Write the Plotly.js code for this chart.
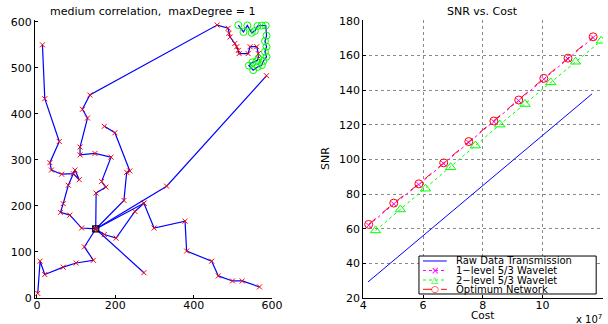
<!DOCTYPE html>
<html>
<head>
<meta charset="utf-8">
<script src="https://cdn.plot.ly/plotly-3.0.1.min.js"></script>
<style>html,body{margin:0;padding:0;background:#fff;}#chart{width:608px;height:324px;}</style>
</head>
<body>
<div id="chart"></div>
<script>
// ---------- Left panel: network (data coordinates) ----------
const rootX = [150];
const rootY = [150];

const branchSW_x = [150, 121, 144, 100, 67, 20, 8, 2];
const branchSW_y = [150, 111, 82, 76, 67, 51, 80, 10];

const branchS_x = [150, 273];
const branchS_y = [150, 55];

const branchE_x = [150, 172, 202, 250, 273, 299, 378, 382, 446, 463, 499, 524, 568];
const branchE_y = [150, 138, 130, 188, 206, 152, 167, 102, 80, 48, 37, 37, 24];

const branchE2_x = [150, 273];
const branchE2_y = [150, 206];

const branchNE_x = [150, 331, 586];
const branchNE_y = [150, 243, 483];

const branchN_x = [150, 222, 229, 237, 199, 172];
const branchN_y = [150, 212, 273, 276, 359, 373];

const branchNW_x = [150, 151, 176, 165, 189, 148, 110, 110, 129, 116, 135, 460, 488, 490, 493, 505, 510, 514, 516, 539, 544, 561, 565, 565];
const branchNW_y = [150, 228, 241, 253, 306, 314, 311, 328, 391, 410, 441, 593, 586, 575, 567, 553, 546, 538, 531, 531, 546, 546, 531, 520];

const branchW_x = [150, 114, 84, 60, 67, 80, 97, 108, 93, 63, 37, 33, 57, 20, 14];
const branchW_y = [150, 152, 180, 186, 205, 245, 278, 257, 270, 269, 278, 294, 340, 433, 550];

const clusterX = [514, 527, 537, 548, 556, 563, 574, 584, 586, 582, 586, 582, 586, 578, 574, 563, 552, 541, 550, 560, 565];
const clusterY = [593, 578, 592, 576, 580, 591, 592, 592, 570, 558, 546, 535, 524, 515, 506, 502, 495, 505, 512, 514, 520];

// ---------- Right panel: SNR vs Cost ----------
const legendLabels = ['Raw Data Transmission', '1\u2212level 5/3 Wavelet', '2\u2212level 5/3 Wavelet', 'Optimum Network'];

const costRaw = [4.16, 11.65];           // x 10^7
const snrRaw  = [29.3, 137.8];

const costW1 = [4.18, 5.02, 5.86, 6.69, 7.53, 8.37, 9.20, 10.04, 10.85, 11.69];
const snrW1  = [62.0, 74.3, 85.5, 97.6, 109.8, 121.8, 133.9, 146.3, 158.0, 170.3];

const costW2 = [4.41, 5.24, 6.08, 6.92, 7.75, 8.57, 9.41, 10.27, 11.10, 11.96];
const snrW2  = [59.0, 71.1, 83.1, 95.5, 108.0, 120.1, 132.0, 144.5, 156.4, 168.5];

const costOpt = [4.18, 5.02, 5.86, 6.69, 7.53, 8.37, 9.20, 10.04, 10.85, 11.69];
const snrOpt  = [62.5, 74.8, 85.9, 98.0, 110.3, 122.2, 134.3, 146.8, 158.5, 170.8];

const BLUE = '#0000ff', RED = '#ff0000', GREEN = '#00ff00', MAGENTA = '#ff00ff';
const FONT = 'DejaVu Sans, Arial, sans-serif';

const branches = [
  [branchSW_x, branchSW_y], [branchS_x, branchS_y], [branchE_x, branchE_y],
  [branchE2_x, branchE2_y], [branchNE_x, branchNE_y], [branchN_x, branchN_y],
  [branchNW_x, branchNW_y], [branchW_x, branchW_y]
];

const traces = [];
branches.forEach(b => {
  traces.push({
    x: b[0], y: b[1], xaxis: 'x', yaxis: 'y', type: 'scatter', mode: 'lines+markers',
    line: {color: BLUE, width: 1.2},
    marker: {symbol: 'x-thin', size: 5, color: RED, line: {color: RED, width: 1}},
    showlegend: false, hoverinfo: 'skip'
  });
});
traces.push({
  x: clusterX, y: clusterY, xaxis: 'x', yaxis: 'y', type: 'scatter', mode: 'lines+markers',
  line: {color: BLUE, width: 1.2},
  marker: {symbol: 'circle-open', size: 7, color: GREEN, line: {color: GREEN, width: 1}},
  showlegend: false, hoverinfo: 'skip'
});
traces.push({
  x: rootX, y: rootY, xaxis: 'x', yaxis: 'y', type: 'scatter', mode: 'markers',
  marker: {symbol: 'square-open', size: 6, color: '#000', line: {color: '#000', width: 1.2}},
  showlegend: false, hoverinfo: 'skip'
});

// right panel series
traces.push({x: costRaw, y: snrRaw, xaxis: 'x2', yaxis: 'y2', type: 'scatter', mode: 'lines',
  line: {color: BLUE, width: 1}, name: legendLabels[0], showlegend: false});
traces.push({x: costW1, y: snrW1, xaxis: 'x2', yaxis: 'y2', type: 'scatter', mode: 'lines+markers',
  line: {color: MAGENTA, width: 1, dash: 'dot'},
  marker: {symbol: 'x-thin', size: 5, color: MAGENTA, line: {color: MAGENTA, width: 1}},
  name: legendLabels[1], showlegend: false});
traces.push({x: costW2, y: snrW2, xaxis: 'x2', yaxis: 'y2', type: 'scatter', mode: 'lines+markers',
  line: {color: GREEN, width: 1, dash: 'dot'},
  marker: {symbol: 'triangle-up-open', size: 9, color: GREEN, line: {color: GREEN, width: 1}},
  name: legendLabels[2], showlegend: false});
traces.push({x: costOpt, y: snrOpt, xaxis: 'x2', yaxis: 'y2', type: 'scatter', mode: 'lines+markers',
  line: {color: RED, width: 1, dash: 'dash'},
  marker: {symbol: 'circle-open', size: 8, color: RED, line: {color: RED, width: 1}},
  name: legendLabels[3], showlegend: false});

const axisCommon = {
  showline: true, linecolor: '#000', linewidth: 1, mirror: false,
  ticks: 'inside', ticklen: 3, tickcolor: '#000', tickwidth: 1,
  zeroline: false, automargin: false,
  tickfont: {family: FONT, size: 11, color: '#000'}
};

// manual legend (positions in paper coords)
const legX0 = 0.676, legX1 = 0.988, legY0 = 0.0144, legY1 = 0.151;
const rowY = [0.1331, 0.0989, 0.0647, 0.0313];
const sampleX0 = 0.683, sampleX1 = 0.725, markX = 0.704, textX = 0.7394;
const legColors = [BLUE, MAGENTA, GREEN, RED];
const legDash = ['solid', 'dot', 'dot', 'dash'];
const legGlyph = [null, '\u00d7', '\u25b3', '\u25cb'];

const shapes = [{type: 'rect', xref: 'paper', yref: 'paper', x0: legX0, x1: legX1, y0: legY0, y1: legY1,
  line: {color: '#000', width: 1}, fillcolor: '#fff', layer: 'above'}];
const annotations = [
  {text: 'medium correlation,  maxDegree = 1', xref: 'paper', yref: 'paper', x: 0.207, y: 1.03,
   xanchor: 'center', yanchor: 'middle', showarrow: false, font: {family: FONT, size: 11, color: '#000'}},
  {text: 'SNR vs. Cost', xref: 'paper', yref: 'paper', x: 0.787, y: 1.032,
   xanchor: 'center', yanchor: 'middle', showarrow: false, font: {family: FONT, size: 11, color: '#000'}},
  {text: 'Cost', xref: 'paper', yref: 'paper', x: 0.787, y: -0.062,
   xanchor: 'center', yanchor: 'middle', showarrow: false, borderpad: 0, font: {family: FONT, size: 10.5, color: '#000'}},
  {text: 'SNR', xref: 'paper', yref: 'paper', x: 0.5106, y: 0.5, textangle: -90,
   xanchor: 'center', yanchor: 'middle', showarrow: false, font: {family: FONT, size: 11, color: '#000'}},
  {text: 'x 10<sup>7</sup>', xref: 'paper', yref: 'paper', x: 0.975, y: -0.075,
   xanchor: 'center', yanchor: 'middle', showarrow: false, borderpad: 0, font: {family: FONT, size: 10, color: '#000'}}
];
legendLabels.forEach((lab, i) => {
  shapes.push({type: 'line', xref: 'paper', yref: 'paper', x0: sampleX0, x1: sampleX1, y0: rowY[i], y1: rowY[i],
    line: {color: legColors[i], width: 1, dash: legDash[i]}, layer: 'above'});
  if (legGlyph[i]) {
    annotations.push({text: legGlyph[i], xref: 'paper', yref: 'paper', x: markX, y: rowY[i],
      xanchor: 'center', yanchor: 'middle', showarrow: false, borderpad: 0,
      font: {family: FONT, size: i === 1 ? 10 : 9, color: legColors[i]}});
  }
  annotations.push({text: lab, xref: 'paper', yref: 'paper', x: textX, y: rowY[i],
    xanchor: 'left', yanchor: 'middle', showarrow: false, borderpad: 0, font: {family: FONT, size: 10, color: '#000'}});
});

const gridStyle = {showgrid: true, gridcolor: '#8a8a8a', griddash: 'dot', gridwidth: 1};

const layout = {
  width: 608, height: 324,
  margin: {l: 35, r: 5, t: 20, b: 26, pad: 0},
  paper_bgcolor: '#fff', plot_bgcolor: '#fff',
  showlegend: false,
  font: {family: FONT, size: 11, color: '#000'},
  xaxis: Object.assign({}, axisCommon, {domain: [0, 0.4173], range: [-5, 600], tickvals: [0, 200, 400, 600], showgrid: false, anchor: 'y', ticklabelstandoff: -3}),
  yaxis: Object.assign({}, axisCommon, {domain: [0, 1], range: [0, 604], tickvals: [0, 100, 200, 300, 400, 500, 600], showgrid: false, anchor: 'x'}),
  xaxis2: Object.assign({}, axisCommon, gridStyle, {domain: [0.578, 1], range: [4, 12.02], tickvals: [4, 6, 8, 10, 12], anchor: 'y2', ticklabelstandoff: -3}),
  yaxis2: Object.assign({}, axisCommon, gridStyle, {domain: [0, 1], range: [20, 180.5], tickvals: [20, 40, 60, 80, 100, 120, 140, 160, 180], anchor: 'x2'}),
  shapes: shapes,
  annotations: annotations
};

Plotly.newPlot('chart', traces, layout, {displayModeBar: false, staticPlot: true});
</script>
</body>
</html>
